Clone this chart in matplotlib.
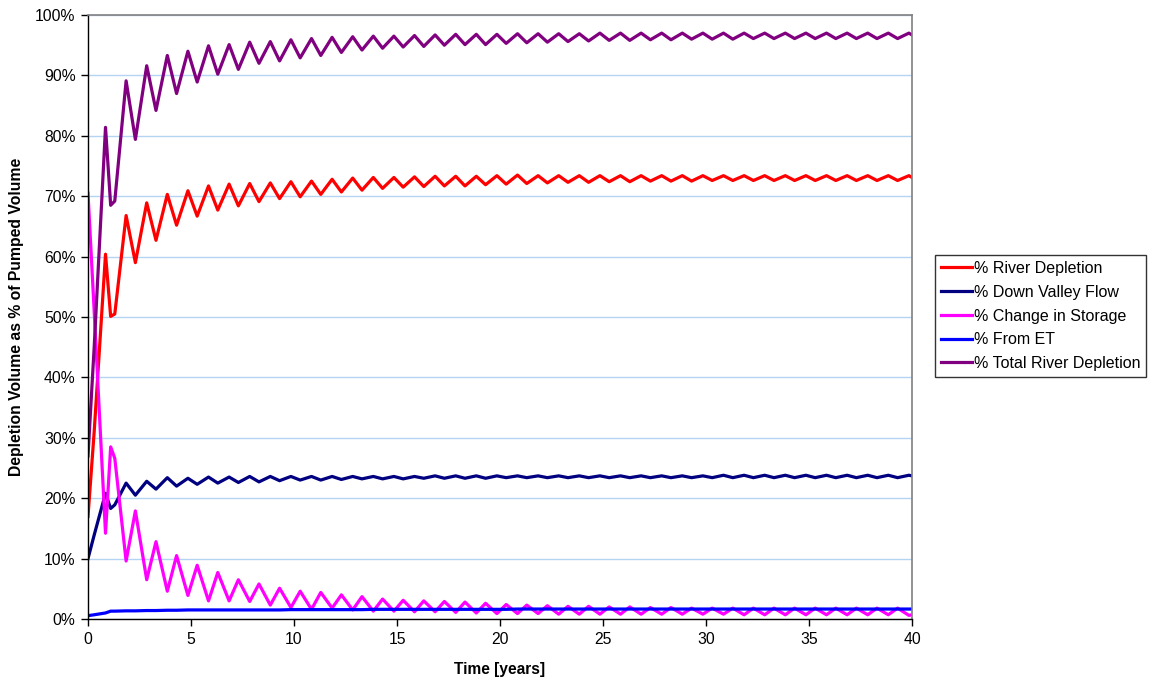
import numpy as np
import matplotlib
matplotlib.use("Agg")
import matplotlib.pyplot as plt
from matplotlib.ticker import MultipleLocator, FuncFormatter

plt.rcParams["font.family"] = ["Liberation Sans", "DejaVu Sans"]

# Sampling of each yearly pumping cycle: start of run, end of pumping season
# (k + 0.85 yr), early recovery (1.1 yr) and recovery minimum (k + 1.3 yr).
start_times = [0.0, 0.3]
season_peak_offset = 0.85
recovery_offset = 1.3
early_recovery_time = 1.1
end_time = 40.0

# % River Depletion
river_start = [17.0, 31.0]
river_season = [60.4, 66.8, 68.9, 70.3, 70.9, 71.7, 72.0, 72.1, 72.2, 72.4,
                72.5, 72.8, 73.0, 73.1, 73.1, 73.2, 73.3, 73.3, 73.3, 73.4,
                73.5, 73.4, 73.4, 73.4, 73.4, 73.4, 73.4, 73.4, 73.4, 73.4,
                73.4, 73.4, 73.4, 73.4, 73.4, 73.4, 73.4, 73.4, 73.4, 73.4]
river_early = 50.1
river_recovery = [50.5, 59.0, 62.7, 65.2, 66.7, 67.7, 68.4, 69.1, 69.6, 69.9,
                  70.3, 70.7, 71.0, 71.3, 71.5, 71.6, 71.7, 71.7, 71.9, 72.0,
                  72.1, 72.2, 72.3, 72.3, 72.4, 72.4, 72.5, 72.5, 72.5, 72.6,
                  72.6, 72.6, 72.6, 72.6, 72.6, 72.6, 72.6, 72.6, 72.6]
river_end = 73.1

# % Down Valley Flow
valley_start = [10.0, 13.9]
valley_season = [20.8, 22.5, 22.8, 23.4, 23.3, 23.5, 23.5, 23.6, 23.6, 23.6,
                 23.6, 23.6, 23.6, 23.6, 23.6, 23.6, 23.7, 23.7, 23.7, 23.7,
                 23.7, 23.7, 23.7, 23.7, 23.7, 23.7, 23.7, 23.7, 23.7, 23.7,
                 23.8, 23.8, 23.8, 23.8, 23.8, 23.8, 23.8, 23.8, 23.8, 23.8]
valley_early = 18.3
valley_recovery = [18.9, 20.5, 21.5, 22.0, 22.3, 22.5, 22.6, 22.7, 22.9, 23.0,
                   23.0, 23.1, 23.2, 23.2, 23.2, 23.3, 23.3, 23.3, 23.3, 23.4,
                   23.4, 23.4, 23.4, 23.4, 23.4, 23.4, 23.4, 23.4, 23.4, 23.4,
                   23.4, 23.4, 23.4, 23.4, 23.4, 23.4, 23.4, 23.4, 23.4]
valley_end = 23.7

# % Change in Storage
storage_start = [70.5, 51.0]
storage_season = [14.2, 9.6, 6.5, 4.6, 3.9, 3.0, 3.0, 2.9, 2.3, 1.9,
                  1.6, 1.8, 1.5, 1.3, 1.3, 1.2, 1.2, 1.1, 1.0, 0.9,
                  0.9, 0.9, 0.8, 0.8, 0.8, 0.8, 0.8, 0.8, 0.8, 0.8,
                  0.8, 0.7, 0.7, 0.7, 0.7, 0.7, 0.7, 0.7, 0.7, 0.6]
storage_early = 28.5
storage_recovery = [26.6, 17.9, 12.8, 10.5, 8.9, 7.7, 6.5, 5.8, 5.1, 4.6,
                    4.4, 4.0, 3.7, 3.3, 3.1, 3.0, 2.9, 2.8, 2.6, 2.4,
                    2.3, 2.2, 2.1, 2.1, 2.0, 2.0, 1.9, 1.9, 1.8, 1.8,
                    1.8, 1.8, 1.8, 1.8, 1.8, 1.8, 1.8, 1.8, 1.8]
storage_end = 0.7

# % From ET
et_start = [0.55, 0.7]
et_season = [1.0, 1.35, 1.4, 1.45, 1.5, 1.5, 1.5, 1.5, 1.5, 1.55,
             1.55, 1.55, 1.55, 1.6, 1.6, 1.6, 1.6, 1.6, 1.6, 1.6,
             1.65, 1.65, 1.65, 1.65, 1.65, 1.65, 1.65, 1.65, 1.65, 1.65,
             1.65, 1.65, 1.65, 1.65, 1.65, 1.65, 1.65, 1.65, 1.65, 1.65]
et_early = 1.3
et_recovery = [1.3, 1.35, 1.4, 1.45, 1.5, 1.5, 1.5, 1.5, 1.5, 1.55,
               1.55, 1.55, 1.55, 1.6, 1.6, 1.6, 1.6, 1.6, 1.6, 1.6,
               1.65, 1.65, 1.65, 1.65, 1.65, 1.65, 1.65, 1.65, 1.65, 1.65,
               1.65, 1.65, 1.65, 1.65, 1.65, 1.65, 1.65, 1.65, 1.65]
et_end = 1.65

# % Total River Depletion
total_start = [27.0, 45.0]
total_season = [81.4, 89.1, 91.6, 93.3, 94.0, 94.9, 95.1, 95.5, 95.6, 95.9,
                96.1, 96.3, 96.4, 96.5, 96.5, 96.6, 96.7, 96.8, 96.8, 96.8,
                96.9, 96.9, 96.9, 96.9, 97.0, 97.0, 97.0, 97.0, 97.0, 97.0,
                97.0, 97.0, 97.0, 97.0, 97.0, 97.0, 97.0, 97.0, 97.0, 97.0]
total_early = 68.5
total_recovery = [69.2, 79.4, 84.2, 87.0, 88.9, 90.2, 91.0, 92.0, 92.4, 92.9,
                  93.3, 93.8, 94.2, 94.5, 94.7, 94.8, 95.0, 95.1, 95.1, 95.3,
                  95.4, 95.5, 95.6, 95.7, 95.8, 95.8, 95.9, 95.9, 96.0, 96.0,
                  96.0, 96.1, 96.1, 96.1, 96.1, 96.1, 96.1, 96.1, 96.1]
total_end = 96.7


def assemble(start, season, early, recovery, end):
    """Interleave the yearly values into one time-ordered series."""
    n = len(season)
    t = list(start_times)
    v = list(start)
    t += [season_peak_offset, early_recovery_time, recovery_offset]
    v += [season[0], early, recovery[0]]
    for k in range(1, n - 1):
        t += [k + season_peak_offset, k + recovery_offset]
        v += [season[k], recovery[k]]
    t += [n - 1 + season_peak_offset, end_time]
    v += [season[n - 1], end]
    return np.array(t), np.array(v)


series = [
    ("% River Depletion", "#FF0000",
     assemble(river_start, river_season, river_early, river_recovery, river_end)),
    ("% Down Valley Flow", "#000080",
     assemble(valley_start, valley_season, valley_early, valley_recovery, valley_end)),
    ("% Change in Storage", "#FF00FF",
     assemble(storage_start, storage_season, storage_early, storage_recovery, storage_end)),
    ("% From ET", "#0000FF",
     assemble(et_start, et_season, et_early, et_recovery, et_end)),
    ("% Total River Depletion", "#800080",
     assemble(total_start, total_season, total_early, total_recovery, total_end)),
]

fig = plt.figure(figsize=(11.53, 6.81), dpi=100)
ax = fig.add_axes([88 / 1153, 62 / 681, 824 / 1153, 604 / 681])

for label, color, (t, v) in series:
    ax.plot(t, v, color=color, lw=2.3, label=label, solid_joinstyle="round")

ax.set_xlim(0, 40)
ax.set_ylim(0, 100)
ax.xaxis.set_major_locator(MultipleLocator(5))
ax.yaxis.set_major_locator(MultipleLocator(10))
ax.yaxis.set_major_formatter(FuncFormatter(lambda y, _: f"{y:.0f}%"))
ax.grid(axis="y", color="#B4D4F4", lw=1.0)
ax.set_axisbelow(True)

for side in ("top", "right"):
    ax.spines[side].set_color("#808080")
    ax.spines[side].set_linewidth(1.2)
for side in ("left", "bottom"):
    ax.spines[side].set_color("#000000")
    ax.spines[side].set_linewidth(1.0)

ax.tick_params(axis="both", direction="out", length=5, width=1.0,
               labelsize=11.3, colors="black", pad=4)

ax.set_xlabel("Time [years]", fontsize=11.2, fontweight="bold", labelpad=11)
ax.set_ylabel("Depletion Volume as % of Pumped Volume", fontsize=11.3,
              fontweight="bold", labelpad=8)

leg = ax.legend(loc="center left", bbox_to_anchor=(935 / 1153, 1 - 316 / 681),
                bbox_transform=fig.transFigure, frameon=True, fancybox=False,
                fontsize=11.5, handlelength=1.95, handletextpad=0.15,
                labelspacing=0.55, borderpad=0.35, borderaxespad=0)
leg.get_frame().set_edgecolor("black")
leg.get_frame().set_linewidth(1.0)

fig.savefig("out.png", dpi=100)
